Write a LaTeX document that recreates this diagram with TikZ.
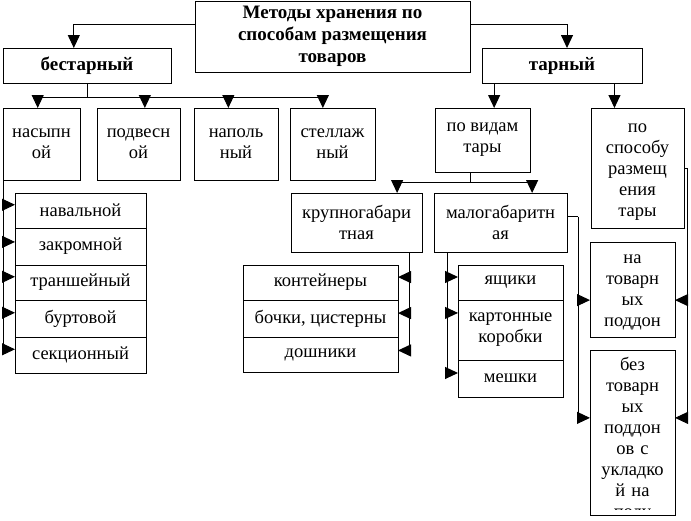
\documentclass[tikz,border=0pt]{standalone}
\usepackage{fontspec}
\setmainfont{Liberation Serif}
\usetikzlibrary{arrows.meta}

\begin{document}
\begin{tikzpicture}[x=1pt,y=-1pt,line width=1pt,>={Triangle[length=13pt,width=12pt]},
  box/.style={draw,anchor=north west,align=center,inner sep=0pt,outer sep=0pt,
    font=\fontsize{18.5pt}{21pt}\selectfont},
  head/.style={box,font=\bfseries\fontsize{19pt}{22pt}\selectfont}]

\useasboundingbox (0,0) rectangle (691,520);

% top level
\node[head,minimum width=275pt,minimum height=71pt](main) at (195,1){Методы хранения по\\способам размещения\\товаров};
\node[head,minimum width=168pt,minimum height=35pt](bes) at (3,48){бестарный};
\node[head,minimum width=160pt,minimum height=35pt](tar) at (482,48){тарный};

% bestarny
\node[box,minimum width=77pt,minimum height=72pt](nas) at (3,108){насыпн\\ой};
\node[box,minimum width=83pt,minimum height=72pt](pod) at (97,108){подвесн\\ой};
\node[box,minimum width=84pt,minimum height=72pt](nap) at (194,108){наполь\\ный};
\node[box,minimum width=85pt,minimum height=72pt](stel) at (290,108){стеллаж\\ный};

\node[box,minimum width=131pt,minimum height=35pt](nav) at (15,193){навальной};
\node[box,minimum width=131pt,minimum height=37pt](zak) at (15,228){закромной};
\node[box,minimum width=131pt,minimum height=35pt](tran) at (15,265){траншейный};
\node[box,minimum width=131pt,minimum height=37pt](burt) at (15,300){буртовой};
\node[box,minimum width=131pt,minimum height=36pt](sek) at (15,337){секционный};

% tarny
\node[box,minimum width=95pt,minimum height=64pt](vid) at (435,108){по видам\\тары};
\node[box,text width=93pt,text height=24pt,text depth=96pt](spos) at (591,108){по\\способу\\размещ\\ения\\тары};

\node[box,minimum width=131pt,minimum height=59pt](krup) at (291,193){крупногабари\\тная};
\node[box,minimum width=133pt,minimum height=59pt](mal) at (434,193){малогабаритн\\ая};

\node[box,minimum width=155pt,minimum height=35pt](cont) at (243,265){контейнеры};
\node[box,minimum width=155pt,minimum height=37pt](boch) at (243,300){бочки, цистерны};
\node[box,minimum width=155pt,minimum height=35pt](dosh) at (243,337){дошники};

\node[box,minimum width=105pt,minimum height=35pt](yash) at (458,265){ящики};
\node[box,minimum width=105pt,minimum height=60pt](kart) at (458,300){картонные\\коробки};
\node[box,minimum width=105pt,minimum height=37pt](mesh) at (458,360){мешки};

\node[box,text width=85pt,text height=21pt,text depth=74pt](nat) at (590,242){на\\товарн\\ых\\поддон};
\begin{scope}
\clip (585,340) rectangle (680,509.5);
\node[box,draw=none,text width=85pt,text height=20pt,text depth=145pt](bez) at (590,350){без\\товарн\\ых\\поддон\\ов с\\укладко\\й на\\полу};
\end{scope}
\draw (bez.north west) rectangle (bez.south east);

% connectors
\draw[->] (main.175) -| (bes.127);
\draw[->] (main.5) -| (tar.74);

\draw (bes.south) -- ++(0,14) coordinate (bj);
\draw (bj -| nas.96) -- (bj -| stel.105);
\draw[->] (bj -| nas.96) -- (nas.96);
\draw[->] (bj -| pod.80) -- (pod.80);
\draw[->] (bj -| nap.102) -- (nap.102);
\draw[->] (bj -| stel.105) -- (stel.105);

\draw (nas.south west) -- (nas.south west |- sek.175);
\draw[->] (nas.south west |- nav.175) -- (nav.175);
\draw[->] (nas.south west |- zak.176) -- (zak.176);
\draw[->] (nas.south west |- tran.175) -- (tran.175);
\draw[->] (nas.south west |- burt.175) -- (burt.175);
\draw[->] (nas.south west |- sek.175) -- (sek.175);

\draw[->] (vid.70 |- tar.south) -- (vid.70);
\draw[->] (spos.111 |- tar.south) -- (spos.111);

\draw (vid.249) -- ++(0,10) coordinate (vj);
\draw (vj -| krup.36) -- (vj -| mal.43);
\draw[->] (vj -| krup.36) -- (krup.36);
\draw[->] (vj -| mal.43) -- (mal.43);

\draw (krup.-29) -- (krup.-29 |- dosh.3);
\draw[->] (krup.-29 |- cont.4) -- (cont.4);
\draw[->] (krup.-29 |- boch.4) -- (boch.4);
\draw[->] (krup.-29 |- dosh.3) -- (dosh.3);

\draw (mal.209) -- (mal.209 |- mesh.174);
\draw[->] (mal.209 |- yash.174) -- (yash.174);
\draw[->] (mal.209 |- kart.162) -- (kart.162);
\draw[->] (mal.209 |- mesh.174) -- (mesh.174);

\draw (mal.5) -- ++(11,0) coordinate (mr);
\draw (mr) -- (mr |- bez.161);
\draw[->] (mr |- nat.194) -- (nat.194);
\draw[->] (mr |- bez.161) -- (bez.161);

\draw (spos.east) -- ++(3,0) coordinate (sr);
\draw (sr) -- (sr |- bez.19);
\draw[->] (sr |- nat.-14) -- (nat.-14);
\draw[->] (sr |- bez.19) -- (bez.19);

\end{tikzpicture}
\end{document}
